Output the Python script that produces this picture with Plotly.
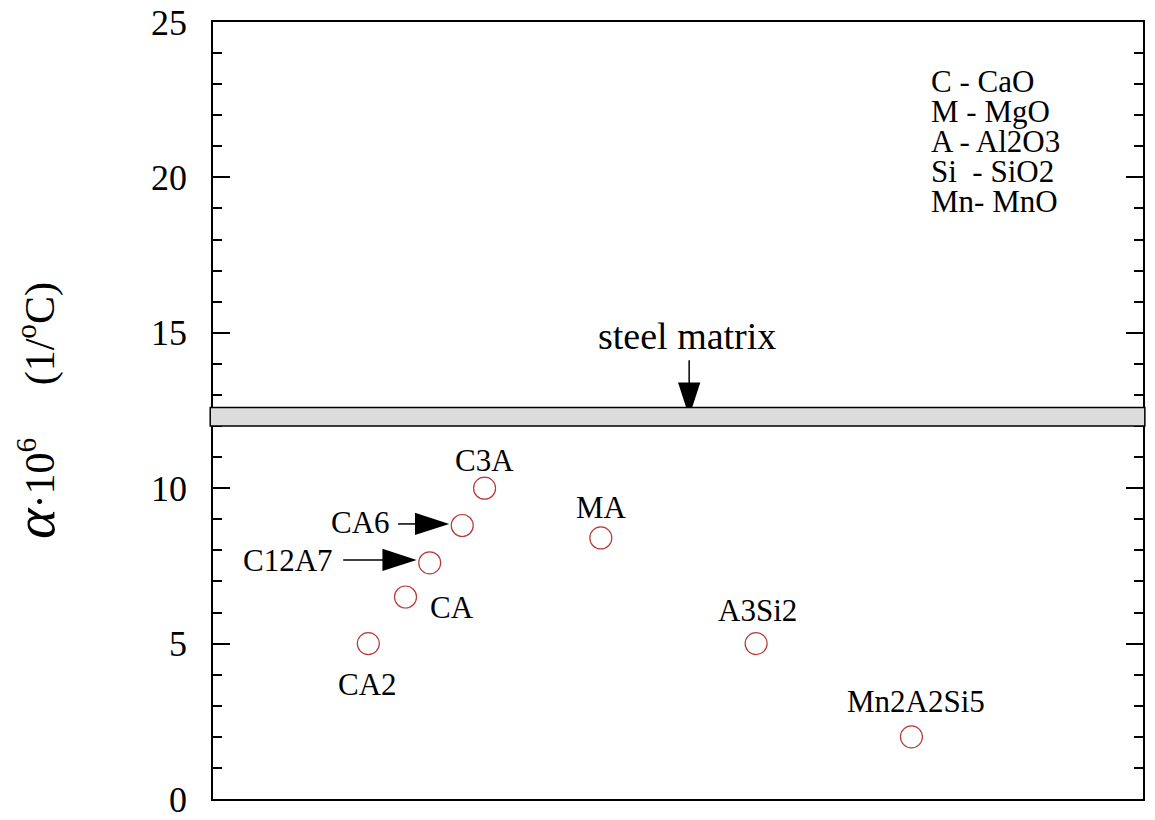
import plotly.graph_objects as go

# ---- data ----
phases = ["CA2", "CA", "C12A7", "CA6", "C3A", "MA", "A3Si2", "Mn2A2Si5"]
pos_x = [16.7, 20.7, 23.3, 26.8, 29.2, 41.7, 58.4, 75.1]
alpha = [5.0, 6.5, 7.6, 8.8, 10.0, 8.4, 5.0, 2.0]

label_x = [16.6, 25.7, 8.1, 15.9, 29.2, 41.8, 58.6, 75.6]
label_y = [3.7, 6.15, 7.66, 8.91, 10.9, 9.39, 6.08, 3.15]

steel_low, steel_high = 12.0, 12.6
steel_label = "steel matrix"
steel_label_x, steel_label_y = 51.0, 14.9

# arrows: (tail_x, tail_y, head_x, head_y)
arrow_tail_x = [19.9, 14.0, 51.2]
arrow_tail_y = [8.85, 7.69, 14.12]
arrow_head_x = [25.4, 21.9, 51.2]
arrow_head_y = [8.85, 7.69, 12.3]

legend_lines = ["C - CaO", "M - MgO", "A - Al2O3", "Si\u00a0 - SiO2", "Mn- MnO"]
legend_x = 77.0
legend_y0 = 23.1
legend_dy = 0.965

y_ticks = [0, 5, 10, 15, 20, 25]

FONT = "Times New Roman, Liberation Serif, serif"

fig = go.Figure()

# steel matrix band
fig.add_shape(type="rect", xref="paper", yref="y", x0=-0.003, x1=1.002,
              y0=steel_low, y1=steel_high, fillcolor="#dcdcdc",
              line=dict(color="black", width=1.5))

# arrows
for tx, ty, hx, hy in zip(arrow_tail_x, arrow_tail_y, arrow_head_x, arrow_head_y):
    fig.add_trace(go.Scatter(
        x=[tx, hx], y=[ty, hy], mode="lines+markers",
        line=dict(color="black", width=1.5),
        marker=dict(symbol=["circle", "arrow"], size=[0, 36], color="black",
                    angleref="previous", line=dict(width=0), opacity=1),
        hoverinfo="skip", showlegend=False))

# data points
fig.add_trace(go.Scatter(
    x=pos_x, y=alpha, mode="markers", text=phases,
    marker=dict(symbol="circle-open", size=22, color="#b83a3a",
                line=dict(width=1.2, color="#b83a3a")),
    showlegend=False))

annotations = []
for name, lx, ly in zip(phases, label_x, label_y):
    annotations.append(dict(x=lx, y=ly, xref="x", yref="y", text=name,
                            showarrow=False, font=dict(family=FONT, size=31, color="black")))
annotations.append(dict(x=steel_label_x, y=steel_label_y, xref="x", yref="y",
                        text=steel_label, showarrow=False,
                        font=dict(family=FONT, size=38, color="black")))
for i, line in enumerate(legend_lines):
    annotations.append(dict(x=legend_x, y=legend_y0 - i * legend_dy, xref="x", yref="y",
                            text=line, showarrow=False, xanchor="left",
                            font=dict(family=FONT, size=31, color="black")))
# y axis title
annotations.append(dict(
    x=-0.192, y=0.50, xref="paper", yref="paper", textangle=-90, showarrow=False,
    xanchor="center", yanchor="middle",
    text='<span style="font-size:58px"><i>α</i></span>·10<sup>6</sup>\u00a0\u00a0\u00a0\u00a0\u00a0(1/<sup>o</sup>C)',
    font=dict(family=FONT, size=42, color="black")))

fig.update_layout(
    width=1147, height=812,
    margin=dict(l=205, r=12, t=14, b=21),
    paper_bgcolor="white", plot_bgcolor="white",
    annotations=annotations,
    xaxis=dict(range=[0, 100], showticklabels=False, ticks="", showgrid=False,
               zeroline=False, showline=True, linecolor="black", linewidth=1.5,
               mirror=True, automargin=False),
    yaxis=dict(range=[0, 25], tickvals=y_ticks, ticks="inside", ticklen=17,
               tickwidth=1.5, tickcolor="black", showgrid=False, zeroline=False,
               showline=True, linecolor="black", linewidth=1.5, mirror="ticks",
               ticklabelstandoff=17, automargin=False, ticklabeloverflow="allow",
               tickfont=dict(family=FONT, size=36, color="black"),
               minor=dict(dtick=1, ticks="inside", ticklen=9, tickwidth=1.5,
                          tickcolor="black", showgrid=False)),
)

fig.write_html("out.html")
